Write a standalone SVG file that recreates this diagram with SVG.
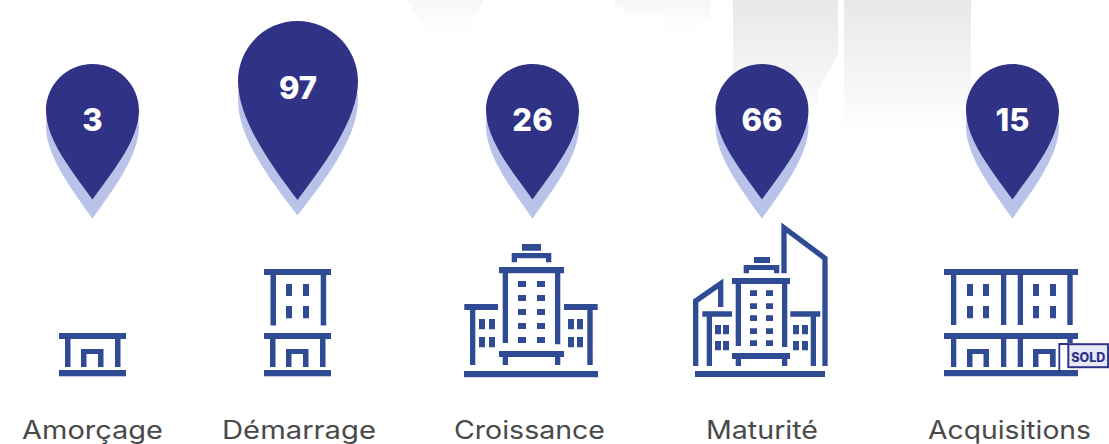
<svg xmlns="http://www.w3.org/2000/svg" width="1109" height="444" viewBox="0 0 1109 444">
<style>
.ic{fill:#2f4b93}
.ln{fill:none;stroke:#2f4b93;stroke-width:5.3}
.pin{fill:#2f3285}
.sh{fill:#b9c3ea}
.num{font-family:Inter,"Liberation Sans",sans-serif;font-weight:800;font-size:31px;fill:#fff;text-anchor:middle}
.lab{font-family:Inter,"Liberation Sans",sans-serif;font-weight:400;font-size:25px;fill:#4a4a4a}
</style>
<defs>
<linearGradient id="bg" gradientUnits="userSpaceOnUse" x1="0" y1="0" x2="0" y2="135"><stop offset="0" stop-color="#e8e8ea"/><stop offset="1" stop-color="#fff"/></linearGradient>
<linearGradient id="bg2" gradientUnits="userSpaceOnUse" x1="0" y1="0" x2="0" y2="34"><stop offset="0" stop-color="#f7f7f7"/><stop offset="1" stop-color="#fff"/></linearGradient>
<g id="p"><path class="sh" d="M0 72C25.700 72 46.500 98 46.500 127C46.500 156 19 192 0 218.500C-19 192-46.500 156-46.500 127C-46.500 98-25.700 72 0 72Z"/><path class="pin" d="M0 64C25.700 64 46.500 84.800 46.500 110.500C46.500 140 19 173 0 199.500C-19 173-46.500 140-46.500 110.500C-46.500 84.800-25.700 64 0 64Z"/></g>
<g id="low"><rect class="ic" x="0" y="333" width="67" height="6"/><rect class="ic" x="6" y="339" width="5.500" height="28"/><rect class="ic" x="56" y="339" width="5.500" height="28"/><path class="ic" d="M22 367V349H44.500V367H39V354H27.500V367Z"/><rect class="ic" x="0" y="370" width="67" height="6.300"/></g>
<g id="up"><rect class="ic" x="0" y="269" width="67" height="6"/><rect class="ic" x="6.500" y="275" width="5.500" height="50.500"/><rect class="ic" x="56.700" y="275" width="5.500" height="50.500"/><rect class="ic" x="22" y="284" width="6" height="12"/><rect class="ic" x="39" y="284" width="6" height="12"/><rect class="ic" x="22" y="306" width="6" height="12.300"/><rect class="ic" x="39" y="306" width="6" height="12.300"/></g>
</defs>
<g id="background">
<path fill="url(#bg)" d="M733 0H838V55L818 90V100L805 110V135H733Z"/>
<path fill="url(#bg)" d="M844 0H971V127L890 130V135H844Z"/>
<path fill="url(#bg2)" d="M407 0H484L468 30H425Z"/>
<path fill="url(#bg2)" d="M615 0H711V18L690 33H665V15H623V7H615Z"/>
</g>
<g id="node-amorcage">
<use href="#p" x="92.500"/>
<text class="num" x="92.500" y="131">3</text>
<use href="#low" x="59"/>
<text class="lab" x="22" y="439" textLength="141" lengthAdjust="spacingAndGlyphs">Amorçage</text>
</g>
<g id="node-demarrage">
<path class="sh" d="M297.500 40C330 40 358 70 358 100C358 140 320 186 297.500 215.500C275 186 238 140 238 100C238 70 265 40 297.500 40Z"/>
<path class="pin" d="M297.500 21C330.600 21 358 47.900 358 81C358 120 323 166 297.500 200C272 166 238 120 238 81C238 47.900 264.400 21 297.500 21Z"/>
<text class="num" x="298" y="99">97</text>
<use href="#up" x="264"/><use href="#low" x="264"/>
<text class="lab" x="222" y="439" textLength="154" lengthAdjust="spacingAndGlyphs">Démarrage</text>
</g>
<g id="node-croissance">
<use href="#p" x="532.500"/>
<text class="num" x="532.500" y="131">26</text>
<path class="ic" d="M522 244H541V250.700H522ZM511.700 253H551.300V262.300H546V258.300H517V262.300H511.700ZM499 267H564V273.300H560.300V344.300H555V273.300H508V343H502.700V273.300H499ZM499 351H564V357H560.300V365H555V357H508V365H502.700V357H499ZM464.300 304H498V310H475.300V365H470V310H464.300ZM564 304H597.700V310H592.700V365H587.300V310H564ZM464 371H598V377.300H464Z"/>
<path class="ic" d="M518 281h8v6h-8zM537 281h8v6h-8zM518 295h8v6h-8zM537 295h8v6h-8zM518 309h8v6h-8zM537 309h8v6h-8zM518 323h8v6h-8zM537 323h8v6h-8zM518 337h8v6h-8zM537 337h8v6h-8z"/>
<path class="ic" d="M479 319h6v10.300h-6zM489 319h6v10.300h-6zM479 337h6v10.300h-6zM489 337h6v10.300h-6zM568 319h6v10.300h-6zM577 319h6v10.300h-6zM568 337h6v10.300h-6zM577 337h6v10.300h-6z"/>
<text class="lab" x="454" y="439" textLength="151" lengthAdjust="spacingAndGlyphs">Croissance</text>
</g>
<g id="node-maturite">
<use href="#p" x="762"/>
<text class="num" x="762" y="131">66</text>
<path class="ln" d="M695.700 366V301L720.700 283.500V307M784 273.300V227.700L825 258.300V366"/>
<path class="ic" d="M754 257H770V263H754ZM743.700 265H779.300V273.300H774V270H749V273.300H743.700ZM732 278H790V284H787.300V347H782V284H741V346H735.700V284H732ZM732 353H790V359H787.300V366H782V359H741V366H735.700V359H732ZM702.300 311.300H732V316.700H712V366H706.700V316.700H702.300ZM790.300 311.300H820.300V316.700H816V366H810.700V316.700H790.300ZM695 371H825V377H695Z"/>
<path class="ic" d="M750 290.300h7v5.700h-7zM766 290.300h7v5.700h-7zM750 303.300h7v5.700h-7zM766 303.300h7v5.700h-7zM750 315.300h7v5.700h-7zM766 315.300h7v5.700h-7zM750 328.300h7v5.700h-7zM766 328.300h7v5.700h-7zM750 340.300h7v5.700h-7zM766 340.300h7v5.700h-7z"/>
<path class="ic" d="M715 325h6v9.300h-6zM723 325h6v9.300h-6zM715 341h6v9.300h-6zM723 341h6v9.300h-6zM793 325h6v9.300h-6zM802 325h6v9.300h-6zM793 341h6v9.300h-6zM802 341h6v9.300h-6z"/>
<text class="lab" x="706" y="439" textLength="112" lengthAdjust="spacingAndGlyphs">Maturité</text>
</g>
<g id="node-acquisitions">
<use href="#p" x="1012.500"/>
<text class="num" x="1012.500" y="131">15</text>
<path class="ic" d="M944 269H1078V275H1072.700V325H1067.300V275H1023V325H1017.700V275H1006.300V325H1001V275H956.300V325H951V275H944Z"/>
<path class="ic" d="M967 284h6v12h-6zM983 284h6v12h-6zM1033 284h6v12h-6zM1050 284h6v12h-6zM967 306h6v12.300h-6zM983 306h6v12.300h-6zM1033 306h6v12.300h-6zM1050 306h6v12.300h-6z"/>
<path class="ic" d="M944 333H1078V339H1072.700V343H1067.300V339H1023V367H1017.700V339H1006.300V367H1001V339H956.300V367H951V339H944ZM967 367V349H989V367H983.500V354H972.500V367ZM1033 367V349H1055.700V367H1050V354H1038.500V367ZM944 370H1078V376.300H944Z"/>
<path fill="#fff" d="M1060 344H1068V367H1060Z"/>
<path fill="none" stroke="#2f3285" stroke-width="1.800" d="M1059.300 372.700V344H1068"/>
<rect x="1068.300" y="344.200" width="39.800" height="23" fill="#e6e8f5" stroke="#2f3285" stroke-width="2"/>
<text x="1088.300" y="362" text-anchor="middle" font-family="Inter,'Liberation Sans',sans-serif" font-weight="800" font-size="12.500" fill="#2f3285">SOLD</text>
<text class="lab" x="928" y="439" textLength="163" lengthAdjust="spacingAndGlyphs">Acquisitions</text>
</g>
<g id="connectors"/>
</svg>
